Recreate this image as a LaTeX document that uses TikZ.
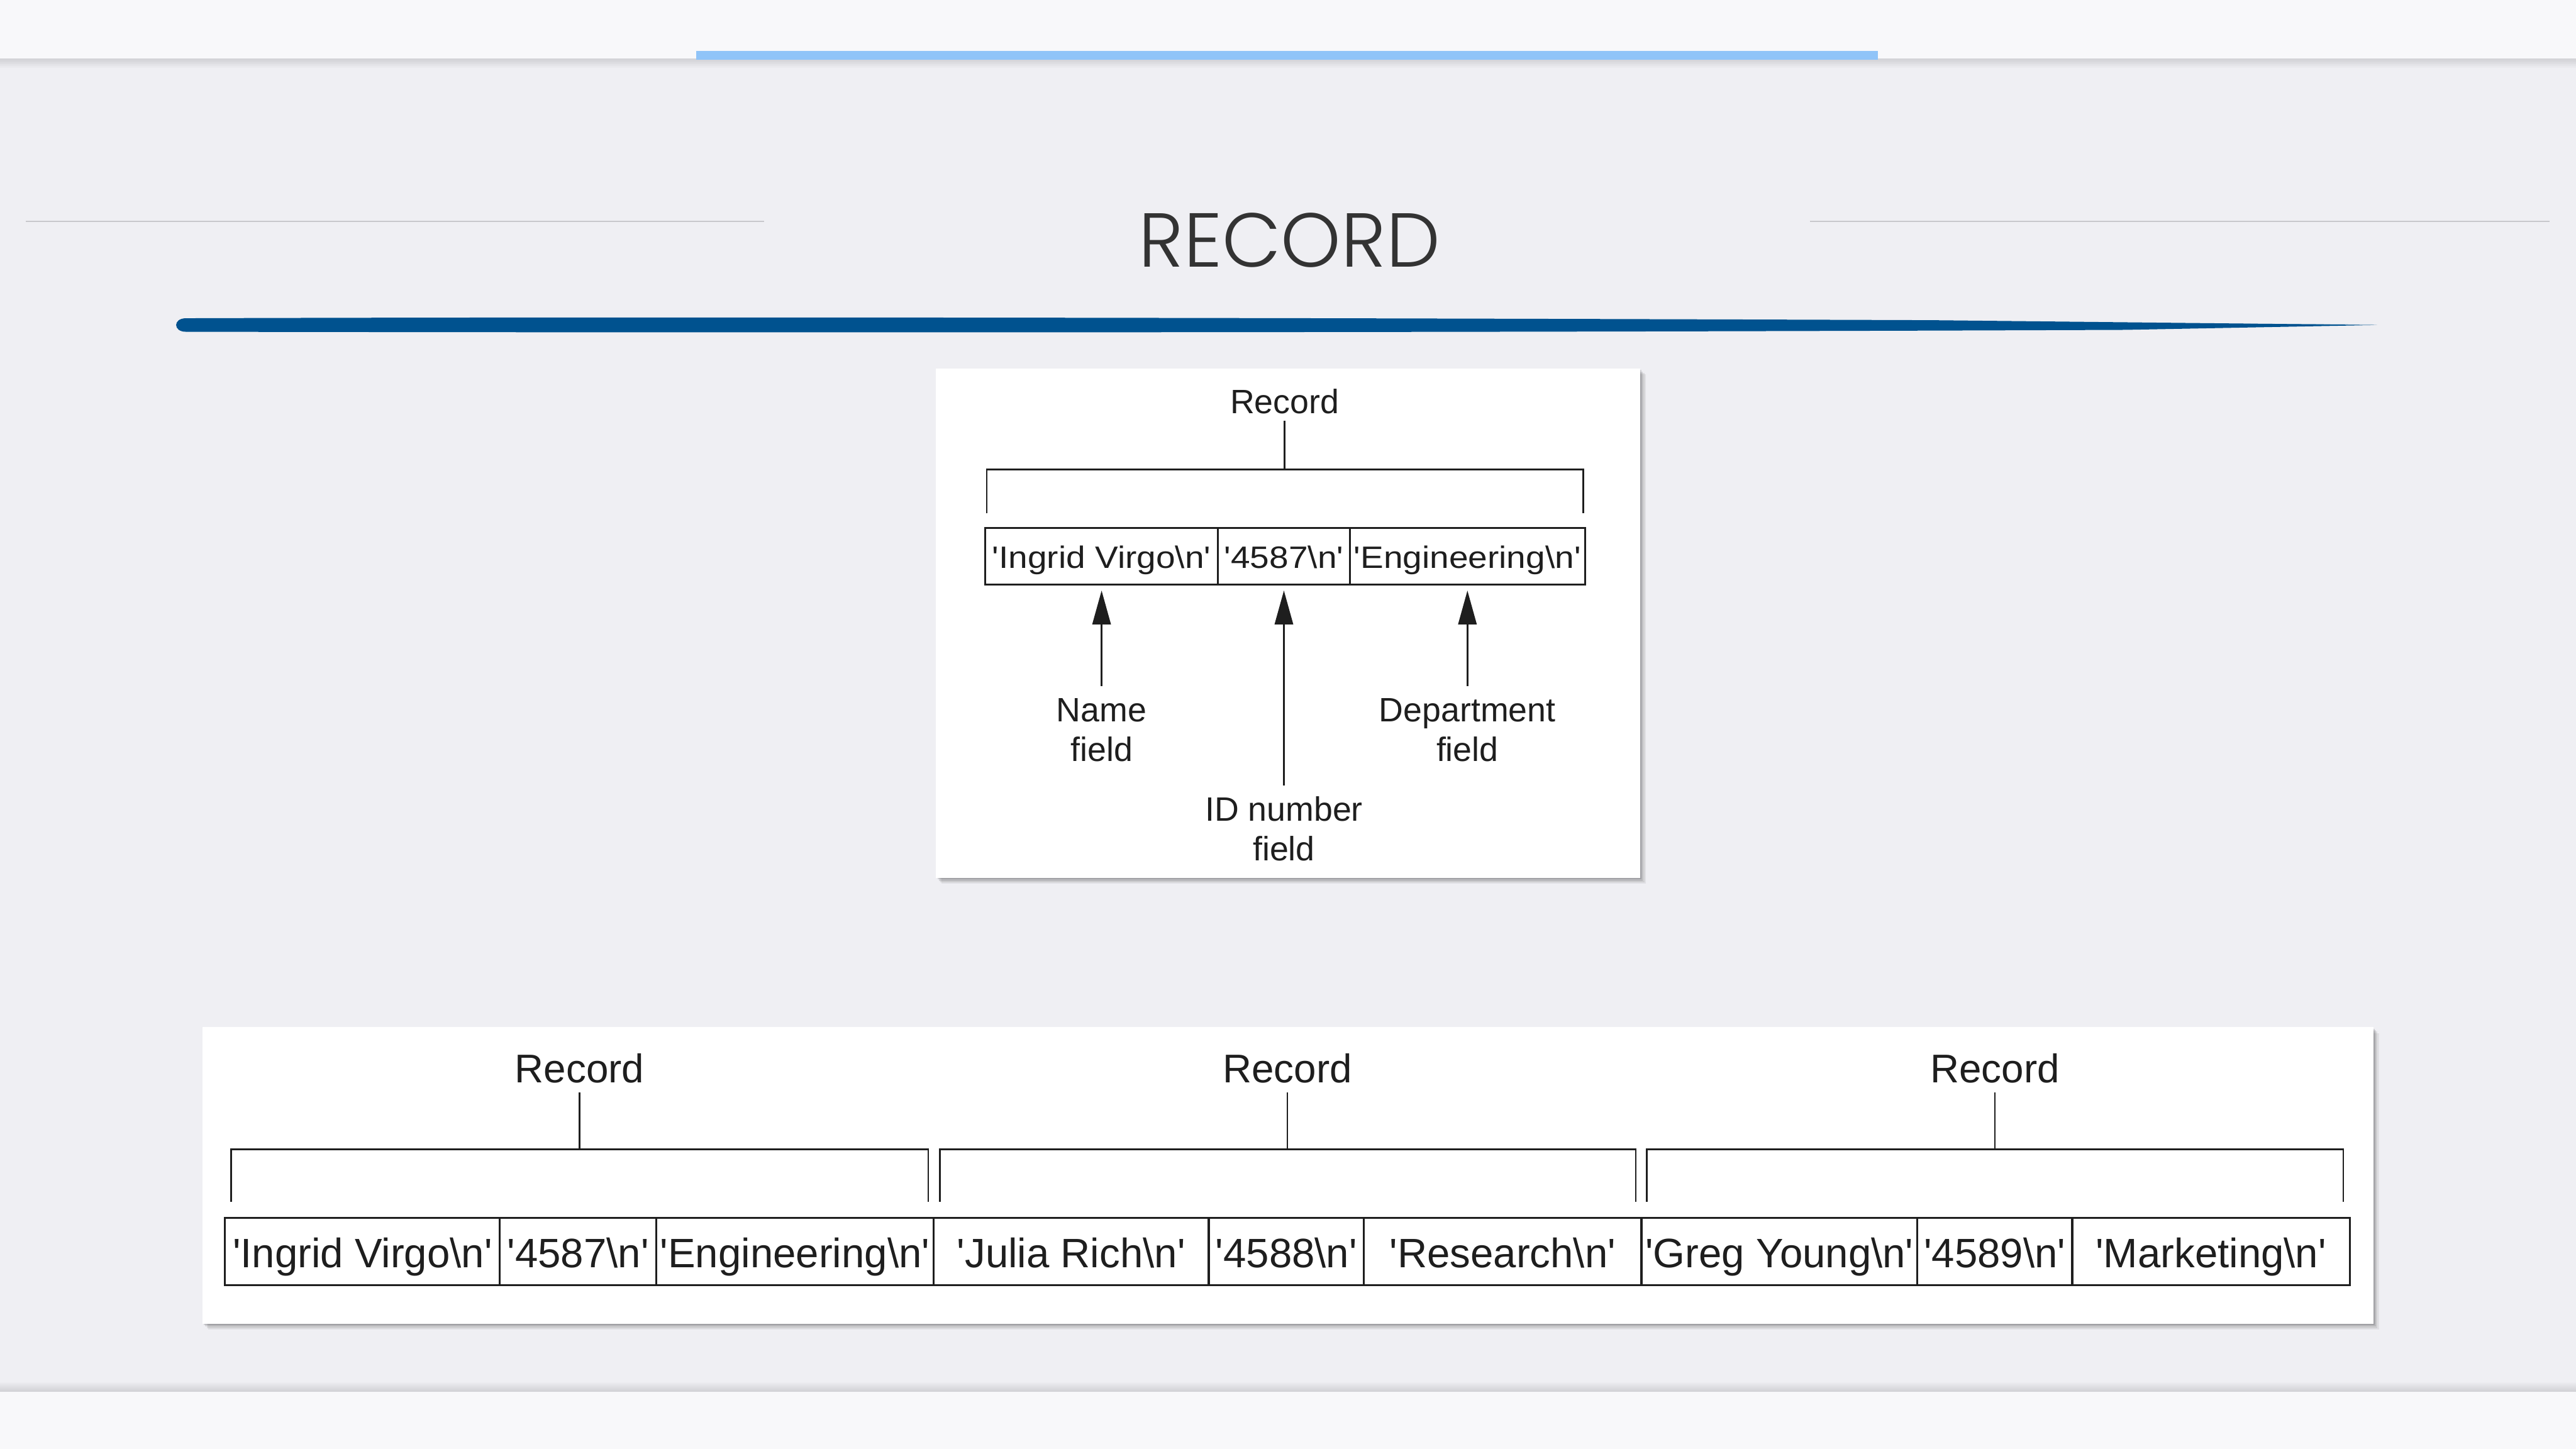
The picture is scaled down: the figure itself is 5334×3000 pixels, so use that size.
\documentclass[tikz,border=0pt]{standalone}
\usepackage{fontspec}
\setmainfont{Liberation Sans}[Ligatures=TeXOff]
\newfontfamily\titlefont{Poppins Light}
\usetikzlibrary{arrows.meta}
\definecolor{bg}{HTML}{EFEFF3}
\definecolor{band}{HTML}{F8F8FA}
\definecolor{topblue}{HTML}{90C4F8}
\definecolor{brush}{HTML}{00528F}
\definecolor{rulegray}{HTML}{C8C8CC}
\definecolor{ink}{HTML}{1E1E1E}
\definecolor{titleink}{HTML}{333333}
\newcommand{\hs}[1]{\scalebox{1.12}[1]{#1}}
\newcommand{\myNL}{\textbackslash n}
\begin{document}
\begin{tikzpicture}[x=0.01cm,y=-0.01cm,
  lbl/.style={inner sep=0pt, text=ink, font=\fontsize{19.9pt}{23.6pt}\selectfont},
  biglbl/.style={inner sep=0pt, text=ink, font=\fontsize{23.6pt}{28pt}\selectfont},
  topcell/.style={draw=ink, line width=0.035cm, inner sep=0pt, minimum height=1.17cm, text height=0.5cm, text depth=0pt, text=ink, font=\fontsize{18.2pt}{22pt}\selectfont},
  botcell/.style={draw=ink, line width=0.04cm, inner sep=0pt, minimum height=1.39cm, text height=0.65cm, text depth=0pt, text=ink, font=\fontsize{24.2pt}{29pt}\selectfont},
  bracket/.style={draw=ink, line width=0.035cm},
  stem/.style={draw=ink, line width=0.032cm},
  pointer/.style={draw=ink, line width=0.032cm, -{Triangle[length=0.7cm,width=0.38cm]}},
  titlestyle/.style={inner sep=0pt, text=titleink, font=\titlefont\fontsize{45pt}{54pt}\selectfont},
]
\useasboundingbox (0,0) rectangle (5334,3000);
% background
\fill[bg] (0,0) rectangle (5334,3000);
% top band with shadow
\foreach \i in {0,...,9} \fill[black,opacity=0.012] (0,121) rectangle (5334,{123+2*\i});
\fill[band] (0,0) rectangle (5334,121);
\fill[topblue] (1442,106) rectangle (3888,124);
% bottom band with shadow
\foreach \i in {0,...,9} \fill[black,opacity=0.012] (0,{2880-2*\i}) rectangle (5334,2882);
\fill[band] (0,2882) rectangle (5334,3000);
% title rules
\draw[rulegray, line width=0.03cm] (54,458) -- (1582,458);
\draw[rulegray, line width=0.03cm] (3748,458) -- (5279,458);
% title
\node[titlestyle, anchor=base] (title) at (2670,553) {RECORD};
% brush stroke
\fill[brush] (385,659) .. controls (1500,655) and (3000,659) .. (4000,663)
  -- (4922,673) -- (4400,683) .. controls (3000,689) and (1500,689) .. (385,687)
  .. controls (358,687) and (358,659) .. (385,659) -- cycle;
\fill[brush,opacity=0.5] (4300,668) -- (4920,672) -- (4300,676) -- cycle;

% ---------- top figure ----------
\foreach \o/\op in {3/0.12,6/0.1,9/0.08,12/0.06}
  \fill[black,opacity=\op] (1938+\o,763+\o) rectangle (3396+\o,1818+\o);
\fill[white] (1938,763) rectangle (3396,1818);

\node[lbl, anchor=base] (rec) at (2660,856) {Record};
\coordinate (bt) at (2660,972);
\draw[bracket] (2043,1063) -- (2043,972) -- (3278,972) -- (3278,1063);
\draw[stem, shorten <=0.14cm] (rec.south) -- (bt);

\node[topcell, minimum width=4.82cm] (t1) at (2281,1151.5) {\hs{'Ingrid Virgo\myNL'}};
\node[topcell, minimum width=2.73cm] (t2) at (2658.5,1151.5) {\hs{'4587\myNL'}};
\node[topcell, minimum width=4.87cm] (t3) at (3038.5,1151.5) {\hs{'Engineering\myNL'}};

\node[lbl, anchor=north, align=center] (nm) at (2281,1445) {Name\\field};
\node[lbl, anchor=north, align=center] (dp) at (3038.5,1445) {Department\\field};
\node[lbl, anchor=north, align=center] (idl) at (2658.5,1648) {ID number\\field};
\draw[pointer, shorten <=0.24cm, shorten >=0.11cm] (nm.north) -- (nm.north |- t1.south);
\draw[pointer, shorten <=0.24cm, shorten >=0.11cm] (dp.north) -- (dp.north |- t3.south);
\draw[pointer, shorten <=0.22cm, shorten >=0.11cm] (idl.north) -- (idl.north |- t2.south);

% ---------- bottom figure ----------
\foreach \o/\op in {3/0.12,6/0.1,9/0.08,12/0.06}
  \fill[black,opacity=\op] (419+\o,2127+\o) rectangle (4914+\o,2741+\o);
\fill[white] (419,2127) rectangle (4914,2741);

\node[biglbl, anchor=base] (r1) at (1200,2242) {Record};
\node[biglbl, anchor=base] (r2) at (2666,2242) {Record};
\node[biglbl, anchor=base] (r3) at (4131,2242) {Record};
\coordinate (b1) at (1200,2380);
\coordinate (b2) at (2666,2380);
\coordinate (b3) at (4131,2380);
\draw[bracket] (479,2489) -- (479,2380) -- (1922,2380) -- (1922,2489);
\draw[bracket] (1946,2489) -- (1946,2380) -- (3387,2380) -- (3387,2489);
\draw[bracket] (3410,2489) -- (3410,2380) -- (4852,2380) -- (4852,2489);
\draw[stem, shorten <=0.19cm] (r1.south) -- (b1);
\draw[stem, shorten <=0.19cm] (r2.south) -- (b2);
\draw[stem, shorten <=0.19cm] (r3.south) -- (b3);

\node[botcell, minimum width=5.69cm] (c1) at (750.5,2591.5) {'Ingrid Virgo\myNL'};
\node[botcell, minimum width=3.24cm] (c2) at (1197,2591.5) {'4587\myNL'};
\node[botcell, minimum width=5.74cm] (c3) at (1646,2591.5) {'Engineering\myNL'};
\node[botcell, minimum width=5.70cm] (c4) at (2218,2591.5) {'Julia Rich\myNL'};
\node[botcell, minimum width=3.21cm] (c5) at (2663.5,2591.5) {'4588\myNL'};
\node[botcell, minimum width=5.75cm] (c6) at (3111.5,2591.5) {'Research\myNL'};
\node[botcell, minimum width=5.71cm] (c7) at (3684.5,2591.5) {'Greg Young\myNL'};
\node[botcell, minimum width=3.21cm] (c8) at (4130.5,2591.5) {'4589\myNL'};
\node[botcell, minimum width=5.74cm] (c9) at (4578,2591.5) {'Marketing\myNL'};
\end{tikzpicture}
\end{document}
